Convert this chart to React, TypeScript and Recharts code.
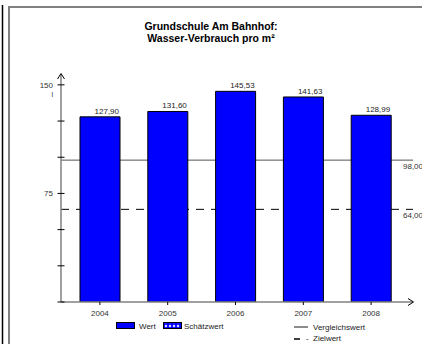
import React from 'react';
import { BarChart, Bar, XAxis, YAxis, ReferenceLine, LabelList } from 'recharts';

const years = ['2004', '2005', '2006', '2007', '2008'];
const wert = [127.9, 131.6, 145.53, 141.63, 128.99];
const vergleichswert = 98;
const zielwert = 64;
const yTicks = [0, 25, 50, 75, 100, 125, 150];
const yLabelTicks = [75, 150];
const titleLines = ['Grundschule Am Bahnhof:', 'Wasser-Verbrauch pro m²'];

const data = years.map((year, i) => ({ year, wert: wert[i] }));

const FONT = "'Liberation Sans', Arial, sans-serif";
const fmt = (v: number) => v.toFixed(2).replace('.', ',');

const YTick = (props: any) => {
  const { x, y, payload } = props;
  const show = yLabelTicks.includes(payload.value);
  return (
    <g>
      <line x1={x - 3.5} x2={x + 3.5} y1={y} y2={y} stroke="#000" strokeWidth={1} />
      {show && (
        <text x={x - 8} y={y + 3} textAnchor="end" fontSize={8} fill="#333" fontFamily={FONT}>
          {payload.value}
        </text>
      )}
      {payload.value === 150 && (
        <text x={x - 8} y={y + 12} textAnchor="end" fontSize={7} fill="#333" fontFamily={FONT}>
          l
        </text>
      )}
    </g>
  );
};

const XTick = (props: any) => {
  const { x, y, payload } = props;
  return (
    <g>
      <line x1={x} x2={x} y1={y} y2={y + 3} stroke="#000" strokeWidth={1} />
      <text x={x} y={y + 14} textAnchor="middle" fontSize={8} fill="#333" fontFamily={FONT}>
        {payload.value}
      </text>
    </g>
  );
};

const BarValueLabel = (props: any) => {
  const { x, y, width, value } = props;
  return (
    <text x={x + width - 1} y={y - 3} textAnchor="end" fontSize={8} fill="#222" fontFamily={FONT}>
      {fmt(value)}
    </text>
  );
};

const refLabel = (value: number) => (props: any) => {
  const vb = props.viewBox || {};
  return (
    <text x={vb.x + vb.width - 10} y={vb.y + 9} fontSize={8} fill="#333" fontFamily={FONT}>
      {fmt(value)}
    </text>
  );
};

const Overlay = () => (
  <svg
    width={422}
    height={344}
    style={{ position: 'absolute', left: 0, top: 0, pointerEvents: 'none' }}
  >
    <defs>
      <pattern id="hatch" width="4" height="4" patternUnits="userSpaceOnUse">
        <rect width="4" height="4" fill="#0000FF" />
        <path d="M2,0.6 L3.4,2 L2,3.4 L0.6,2 Z" fill="#fff" />
      </pattern>
    </defs>
    <line x1={2.5} x2={2.5} y1={5} y2={344} stroke="#000" strokeWidth={1.5} />
    <line x1={9} x2={9} y1={7} y2={344} stroke="#808080" strokeWidth={2} />
    <line x1={8} x2={422} y1={7} y2={7} stroke="#808080" strokeWidth={2} />
    {titleLines.map((t, i) => (
      <text
        key={t}
        x={211}
        y={30 + i * 11.5}
        textAnchor="middle"
        fontSize={10.5}
        fontWeight="bold"
        fill="#000"
        fontFamily={FONT}
      >
        {t}
      </text>
    ))}
    <path d="M57.5,79 L61,73.5 L64.5,79" fill="none" stroke="#000" strokeWidth={1} />
    <path d="M408,298.5 L413.5,302 L408,305.5" fill="none" stroke="#000" strokeWidth={1} />
    <rect x={116.5} y={322.5} width={18} height={6} fill="#0000FF" stroke="#000" strokeWidth={1} />
    <text x={139} y={329} fontSize={8} fill="#222" fontFamily={FONT}>Wert</text>
    <rect x={163.5} y={322.5} width={18} height={6} fill="url(#hatch)" stroke="#000" strokeWidth={1} />
    <text x={184} y={329} fontSize={8} fill="#222" fontFamily={FONT}>Schätzwert</text>
    <line x1={294} x2={308} y1={327} y2={327} stroke="#666" strokeWidth={1.5} />
    <text x={313} y={330} fontSize={8} fill="#222" fontFamily={FONT}>Vergleichswert</text>
    <line x1={294} x2={300} y1={339} y2={339} stroke="#000" strokeWidth={1.5} />
    <text x={306} y={341} fontSize={8} fill="#222" fontFamily={FONT}>-</text>
    <text x={313} y={341} fontSize={8} fill="#222" fontFamily={FONT}>Zielwert</text>
  </svg>
);

export default function App() {
  const refProps: any = { zIndex: 10 };
  return (
    <div style={{ position: 'absolute', left: 0, top: 0, width: 422, height: 344, background: '#fff' }}>
      <BarChart
        width={422}
        height={344}
        data={data}
        margin={{ top: 74, right: 9, bottom: 22, left: 0 }}
        barCategoryGap={0}
      >
        <ReferenceLine
          {...refProps}
          y={vergleichswert}
          stroke="#555"
          strokeWidth={1}
          label={refLabel(vergleichswert)}
        />
        <ReferenceLine
          {...refProps}
          y={zielwert}
          stroke="#000"
          strokeWidth={1}
          strokeDasharray="8 7"
          label={refLabel(zielwert)}
        />
        <XAxis
          dataKey="year"
          height={20}
          padding={{ left: 5, right: 8 }}
          axisLine={{ stroke: '#808080', strokeWidth: 1.5 }}
          tickLine={false}
          tickSize={0}
          tickMargin={0}
          tick={<XTick />}
          interval={0}
        />
        <YAxis
          width={61}
          domain={[0, 157.5]}
          ticks={yTicks}
          allowDataOverflow
          axisLine={{ stroke: '#808080', strokeWidth: 1.5 }}
          tickLine={false}
          tickSize={0}
          tickMargin={0}
          tick={<YTick />}
          interval={0}
        />
        <Bar dataKey="wert" fill="#0000FF" stroke="#000" strokeWidth={1} barSize={40} isAnimationActive={false}>
          <LabelList dataKey="wert" content={<BarValueLabel />} />
        </Bar>
      </BarChart>
      <Overlay />
    </div>
  );
}
